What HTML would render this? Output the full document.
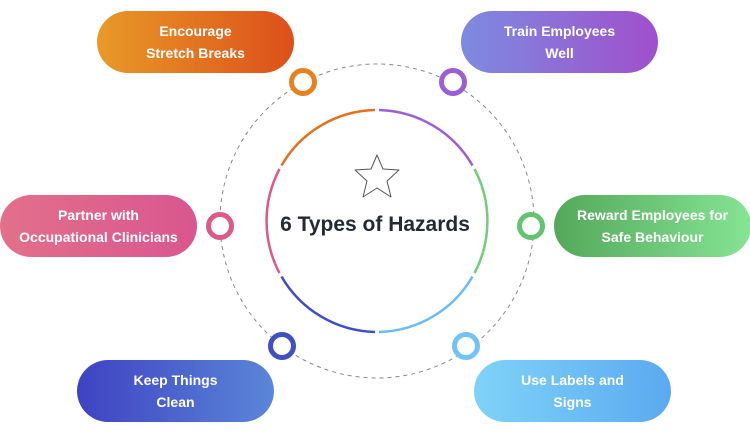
<!DOCTYPE html>
<html><head><style>
body{margin:0;width:750px;height:442px;background:#fff;position:relative;overflow:hidden;font-family:"Liberation Sans",sans-serif}
.p{position:absolute;width:197px;height:62px;border-radius:31px;color:#fff;font-weight:bold;font-size:14px;line-height:22px;display:flex;align-items:center;justify-content:center;text-align:center}
</style></head><body>
<svg width="750" height="442" style="position:absolute;left:0;top:0">
<circle cx="377" cy="221" r="157" fill="none" stroke="#888" stroke-width="1" stroke-dasharray="4 4"/>
<g fill="none" stroke-width="2.5">
<path d="M281.5 165.5 A111 111 0 0 1 375 110" stroke="#e2701c"/>
<path d="M379 110 A111 111 0 0 1 472.5 165.5" stroke="#9a5fd6"/>
<path d="M474.5 169 A111 111 0 0 1 474.5 273" stroke="#6fcf7a"/>
<path d="M472.5 276.5 A111 111 0 0 1 379 332" stroke="#6bbcf5"/>
<path d="M375 332 A111 111 0 0 1 281.5 276.5" stroke="#3d4ec6"/>
<path d="M279.5 273 A111 111 0 0 1 279.5 169" stroke="#dd5a86"/>
</g>
<g fill="#fff" stroke-width="5">
<circle cx="303" cy="82" r="11.5" stroke="#e8801f"/>
<circle cx="453" cy="82" r="11.5" stroke="#9a5fd6"/>
<circle cx="220" cy="226" r="11.5" stroke="#dd5a86"/>
<circle cx="531" cy="226" r="11.5" stroke="#62c46c"/>
<circle cx="282" cy="346" r="11.5" stroke="#3f4fc4"/>
<circle cx="466" cy="346" r="11.5" stroke="#72c2f7"/>
</g>
<path d="M377 155 L383 169 L399 170 L387 181 L391 197 L377 188 L363 197 L367 181 L355 170 L371 169 Z" fill="none" stroke="#555" stroke-width="1" stroke-linejoin="round"/>
<text x="375" y="231" text-anchor="middle" font-family="Liberation Sans" font-weight="bold" font-size="21" fill="#222a33">6 Types of Hazards</text>
</svg>
<div class="p" style="left:97px;top:11px;background:linear-gradient(90deg,#e89a28,#dd4f1a)">Encourage<br>Stretch Breaks</div>
<div class="p" style="left:461px;top:11px;background:linear-gradient(90deg,#7d8be0,#a04fcc)">Train Employees<br>Well</div>
<div class="p" style="left:0;top:195px;background:linear-gradient(90deg,#e2708a,#d9568f)">Partner with<br>Occupational Clinicians</div>
<div class="p" style="left:554px;top:195px;background:linear-gradient(90deg,#55a85a,#86e495)">Reward Employees for<br>Safe Behaviour</div>
<div class="p" style="left:77px;top:360px;background:linear-gradient(90deg,#3f42c2,#5a86d8)">Keep Things<br>Clean</div>
<div class="p" style="left:474px;top:360px;background:linear-gradient(90deg,#7fd3f8,#5aaaf0)">Use Labels and<br>Signs</div>
</body></html>
